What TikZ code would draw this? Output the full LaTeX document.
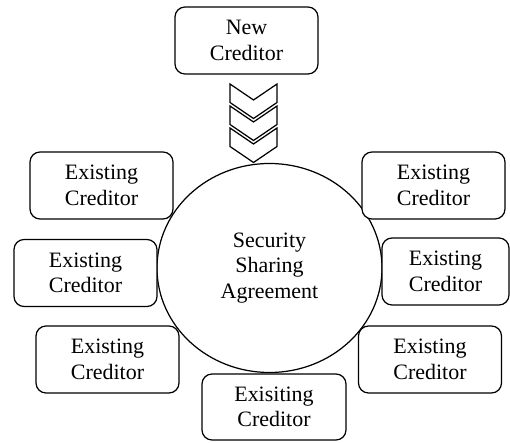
\documentclass[tikz,border=0pt]{standalone}
\usepackage{fontspec}
\setmainfont{Liberation Serif}
\usepackage{tikz}
\usetikzlibrary{shapes.geometric}

\begin{document}
\begin{tikzpicture}[line width=0.7pt,font=\fontsize{12.5}{14.6}\selectfont,
	cred/.style={draw,rounded corners=0.2cm,fill=white,align=center,minimum width=2.86cm,minimum height=1.34cm}]
			\useasboundingbox(0,0)rectangle(10.2,8.84);
			\node[draw,ellipse,align=center,minimum width=4.5cm,minimum height=4.18cm](sha)at(5.39,3.48){Security\\Sharing\\Agreement};
			\node[cred](new)at(4.93,8.03){New\\Creditor};
			\node[cred](l1)at(2.03,5.13){Existing\\Creditor};
			\node[cred](l2)at(1.71,3.38){Existing\\Creditor};
			\node[cred](l3)at(2.15,1.65){Existing\\Creditor};
			\node[cred](r1)at(8.67,5.13){Existing\\Creditor};
			\node[cred,minimum width=2.54cm](r2)at(8.91,3.41){Existing\\Creditor};
			\node[cred](r3)at(8.60,1.65){Existing\\Creditor};
			\node[cred,minimum width=2.88cm,minimum height=1.32cm](b)at(5.48,0.70){Exisiting\\Creditor};
			% chevrons from new creditor down to the agreement
			\foreach \t in {7.16,6.72,6.28}
				\draw[fill=white,line join=miter](4.60,\t)--(5.07,\t-0.32)--(5.54,\t)--(5.54,\t-0.37)--(5.07,\t-0.69)--(4.60,\t-0.37)--cycle;
		\end{tikzpicture}
\end{document}
